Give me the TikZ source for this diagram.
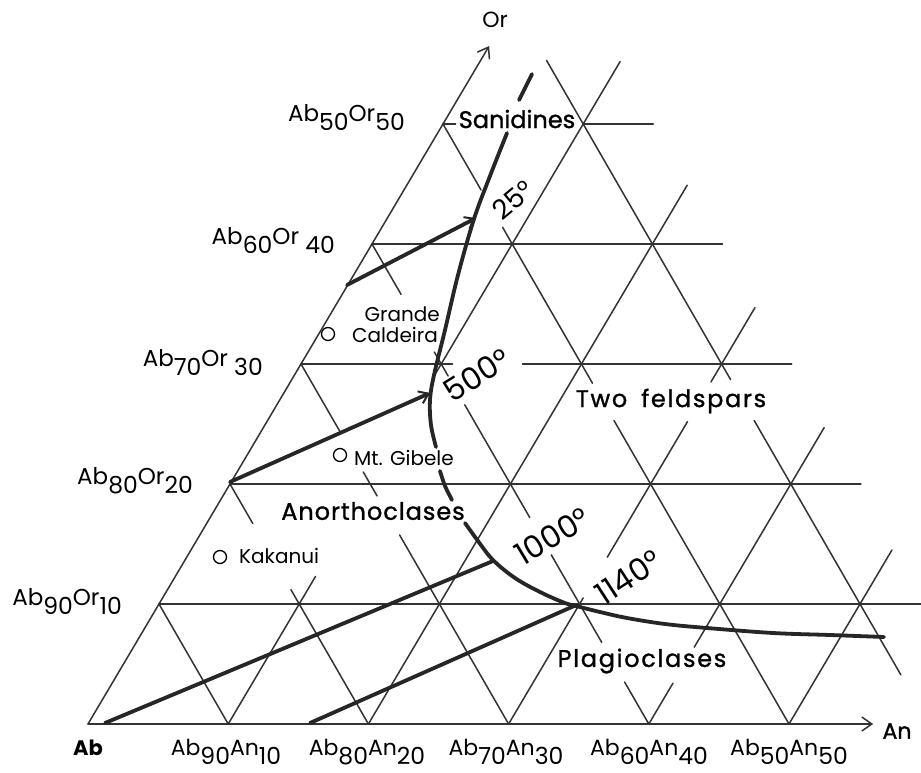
\documentclass[tikz,border=0pt]{standalone}
\usepackage{fontspec}
\setmainfont{Poppins}
\newfontfamily\fieldfont[FakeBold=1.2]{Poppins}
\newfontfamily\fieldwide[FakeBold=1.2,LetterSpace=7]{Poppins}
\newfontfamily\fieldmid[FakeBold=1.2,LetterSpace=4]{Poppins}
\usetikzlibrary{arrows.meta}
\newcommand\dsub[1]{\raisebox{-9pt}{\fontsize{23.5}{23.5}\selectfont #1}}
\newcommand\gridH[3]{\draw[gridline] (#2,#1) -- (#3,#1);}
\newcommand\gridR[3]{\draw[gridline] (#1,#2) -- (#1,#3);}
\newcommand\gridL[3]{\draw[gridline] ({#1-#2},#2) -- ({#1-#3},#3);}
\begin{document}
\begin{tikzpicture}[x=1pt,y=-1pt,
  gridline/.style={line width=1.5pt, line cap=round, black!80},
  phase/.style={line width=3.8pt, line cap=round, black!85},
  axlbl/.style={inner sep=0pt, font=\fontsize{23}{23}\selectfont, anchor=base east},
  btlbl/.style={inner sep=0pt, font=\fontsize{22}{22}\selectfont, anchor=base},
  field/.style={inner sep=0pt, font=\fieldfont\fontsize{24}{24}\selectfont},
  fieldw/.style={inner sep=0pt, font=\fieldwide\fontsize{24}{24}\selectfont},
  fieldm/.style={inner sep=0pt, font=\fieldmid\fontsize{24}{24}\selectfont},
  small/.style={inner sep=0pt, font=\fontsize{20}{20}\selectfont},
  deg/.style={inner sep=0pt, font=\fontsize{31}{31}\selectfont},
  spot/.style={circle, draw, line width=1.3pt, minimum size=13pt, inner sep=0pt},
  barb/.style={-{Straight Barb[length=10pt,width=14pt,line width=1.5pt]}}
]
\useasboundingbox (0,0) rectangle (921,773);
\fill[white] (0,0) rectangle (921,773);

% ternary lattice: (An tens, Or tens)
\begin{scope}[shift={(88,724)}, x={(140.2pt,0pt)}, y={(71pt,120pt)}]
  \draw[gridline, barb] (0,0) -- (5.6,0);
  \draw[gridline, barb] (0,0) -- (0,5.65);
  \gridH{1}{0}{5.6}
  \gridH{2}{0}{4.5}
  \gridH{3}{0}{1.08} \gridH{3}{1.58}{3.5}
  \gridH{4}{0}{2.5}
  \gridH{5}{0}{0.09} \gridH{5}{1}{1.5}
  \gridR{1}{0}{1.23} \gridR{1}{2.9}{5.52}
  \gridR{2}{0}{4.49}
  \gridR{3}{0}{1.05} \gridR{3}{1.39}{2.52} \gridR{3}{2.85}{3.47}
  \gridR{4}{0}{0.34} \gridR{4}{0.64}{2.47}
  \gridR{5}{0}{1.45}
  \gridL{1}{0}{1}
  \gridL{2}{0}{1.12} \gridL{2}{1.67}{2}
  \gridL{3}{0}{1.575} \gridL{3}{1.9}{2.1} \gridL{3}{2.43}{3}
  \gridL{4}{0}{0.35} \gridL{4}{0.68}{1.41} \gridL{4}{1.72}{2.66} \gridL{4}{2.9}{3.1} \gridL{4}{3.58}{4}
  \gridL{5}{0}{2.53} \gridL{5}{2.84}{4.14} \gridL{5}{4.45}{5}
  \gridL{6}{0.41}{2.53} \gridL{6}{2.87}{5.53}
\end{scope}

% solvus curve
\draw[phase] (532,74) -- (519,100);
\draw[phase] plot[smooth, tension=0.6] coordinates {(507,133) (490,176) (474,219) (458,275) (445,330) (434,375) (430,400) (431,425) (436,447)};
\draw[phase] plot[smooth] coordinates {(440,471) (445,486) (452,500)};
\draw[phase] plot[smooth, tension=0.6] coordinates {(465,523) (478,541) (493,560) (515,578) (540,592) (565,603) (580,607) (600,612) (627,618) (665,624) (707,628) (773,633) (830,635) (884,637)};

% tie lines
\coordinate (t25a) at (347,285); \coordinate (t25b) at (476,218);
\coordinate (t500a) at (230,482); \coordinate (t500b) at (430,393);
\coordinate (t1000a) at (105,723); \coordinate (t1000b) at (493,561);
\coordinate (t1140a) at (310,723); \coordinate (t1140b) at (574,606);
\draw[phase, -{Straight Barb[length=9pt,width=13pt,line width=2pt]}] (t25a) -- (t25b);
\draw[phase, -{Straight Barb[length=9pt,width=13pt,line width=2pt]}] (t500a) -- (t500b);
\draw[phase] (t1000a) -- (t1000b);
\draw[phase] (t1140a) -- (t1140b);

% axis labels
\node[inner sep=0pt, font=\fontsize{22}{22}\selectfont] (or) at (495,20) {Or};
\node[inner sep=0pt, font=\fieldfont\fontsize{22}{22}\selectfont] (an) at (897,731) {An};
\node[inner sep=0pt, font=\fontsize{21}{21}\selectfont\bfseries, anchor=base] (ab) at (88,755) {Ab};

\node[axlbl] (l10) at (122,605) {Ab\dsub{90}Or\dsub{10}};
\node[axlbl] (l20) at (193,484) {Ab\dsub{80}Or\dsub{20}};
\node[axlbl] (l30) at (263,366) {Ab\dsub{70}Or\ \dsub{30}};
\node[axlbl] (l40) at (335,244) {Ab\dsub{60}Or\ \dsub{40}};
\node[axlbl] (l50) at (405,122) {Ab\dsub{50}Or\dsub{50}};

\node[btlbl] (b10) at (226,755) {Ab\dsub{90}An\dsub{10}};
\node[btlbl] (b20) at (367,755) {Ab\dsub{80}An\dsub{20}};
\node[btlbl] (b30) at (506,755) {Ab\dsub{70}An\dsub{30}};
\node[btlbl] (b40) at (649,755) {Ab\dsub{60}An\dsub{40}};
\node[btlbl] (b50) at (789,755) {Ab\dsub{50}An\dsub{50}};

% field labels
\node[field] (san) at (517,119) {Sanidines};
\node[fieldw] (two) at (671,401) {Two\hspace{6pt} feldspars};
\node[fieldm] (ano) at (373,511) {Anorthoclases};
\node[fieldw] (pla) at (642,661) {Plagioclases};

% localities
\node[spot] (gcs) at (328,334) {};
\node[small, anchor=east] (gc1) at (440,314) {Grande};
\node[small, anchor=east] (gc2) at (438,335) {Caldeira};
\node[spot] (mgs) at (340,455) {};
\node[small, anchor=west] (mg) at (354,458) {Mt. Gibele};
\node[spot] (kks) at (220,557) {};
\node[small, anchor=west] (kk) at (239,556) {Kakanui};

% temperatures
\node[deg, font=\fontsize{27}{27}\selectfont, rotate=40] (d25) at (513,200) {25°};
\node[deg, rotate=32] (d500) at (477,375) {500°};
\node[deg, rotate=31] (d1000) at (552,536) {1000°};
\node[deg, rotate=33] (d1140) at (628,577) {1140°};
\end{tikzpicture}
\end{document}
